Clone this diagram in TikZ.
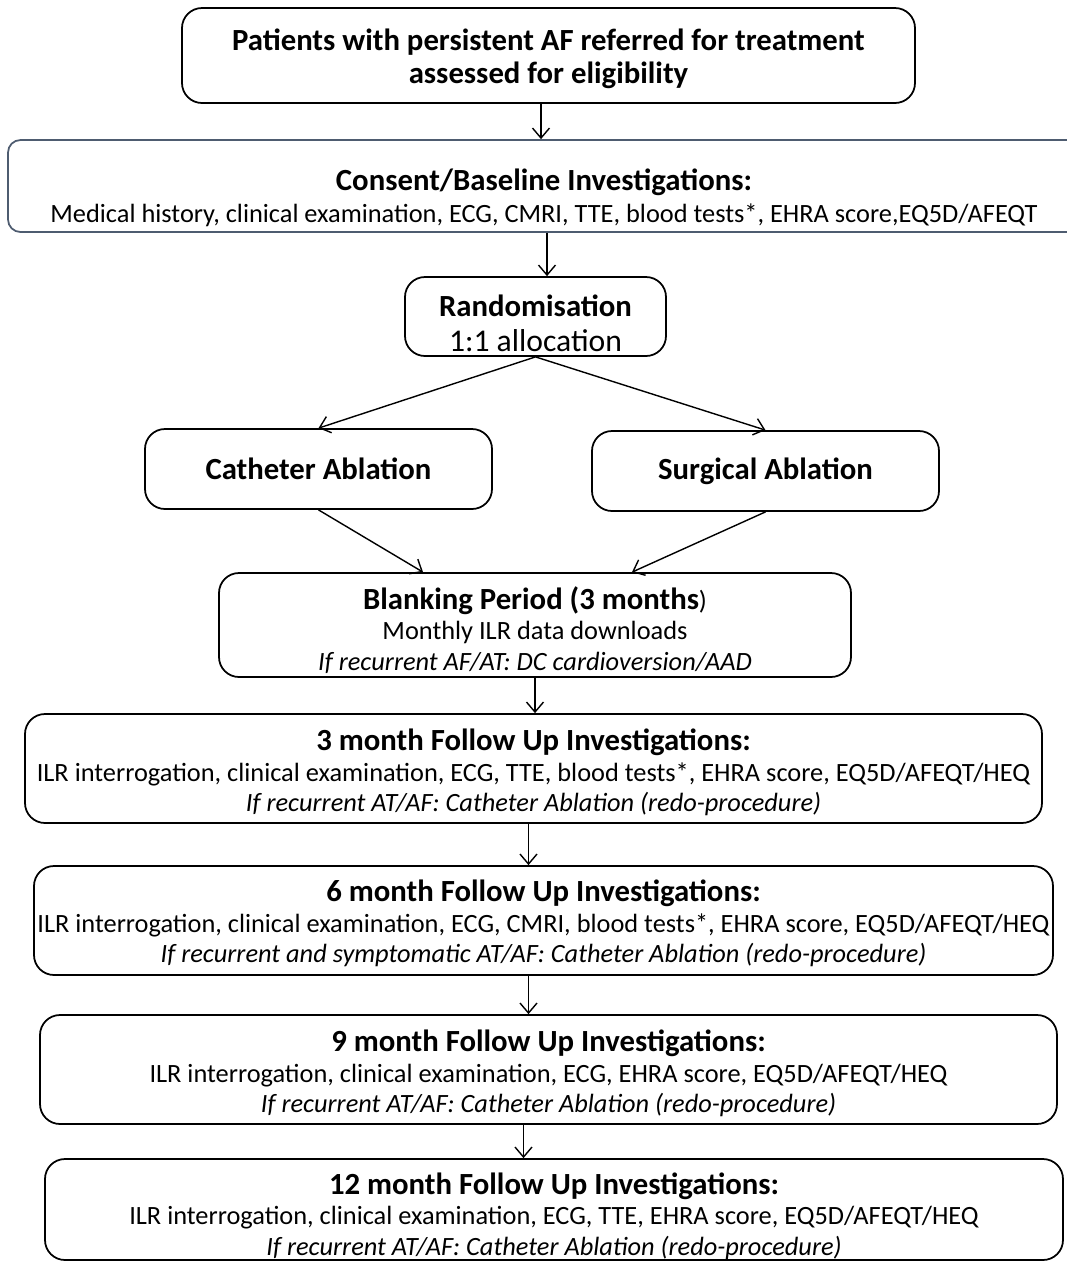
\documentclass[tikz,border=0pt]{standalone}
\usepackage{fontspec}
\setmainfont{Carlito}
\usetikzlibrary{arrows.meta}
\definecolor{slate}{RGB}{78,92,112}
\tikzset{
  stage/.style={draw, rectangle, rounded corners=0.4cm, line width=1pt, align=center, font=\fontsize{15}{17.3}\selectfont, inner sep=0pt},
  >={Straight Barb[length=2mm,width=3.4mm]},
}
\newcommand{\boxtitle}[1]{{\fontsize{17.5}{18}\selectfont\bfseries #1}}
\newcommand{\toppad}[1]{\rule{0pt}{#1}}
\begin{document}
\begin{tikzpicture}
		\useasboundingbox (0,0) rectangle (21.34,-25.3);
		\node (start) [stage, minimum width=14.66cm, minimum height=1.9cm] at (10.97,-1.11) {\toppad{0.55cm}\boxtitle{Patients with persistent AF referred for treatment}\\[1.5pt] \boxtitle{assessed for eligibility}};
		\node (consent) [stage, draw=slate, rounded corners=0.25cm, minimum width=21.44cm, minimum height=1.84cm] at (10.88,-3.72) {\toppad{0.9cm}\boxtitle{Consent/Baseline Investigations:}\\[0.6pt] Medical history, clinical examination, ECG, CMRI, TTE, blood tests*, EHRA score,EQ5D/AFEQT};
		\node (rand) [stage, minimum width=5.22cm, minimum height=1.58cm] at (10.71,-6.33) {\toppad{0.7cm}\boxtitle{Randomisation}\\[2.5pt] {\fontsize{18}{18}\selectfont 1:1 allocation}};
		\node (cath) [stage, minimum width=6.94cm, minimum height=1.6cm] at (6.37,-9.38) {\boxtitle{Catheter Ablation}};
		\node (surg) [stage, minimum width=6.94cm, minimum height=1.6cm] at (15.31,-9.42) {\boxtitle{Surgical Ablation}};
		\node (blank) [stage, minimum width=12.64cm, minimum height=2.08cm] at (10.70,-12.5) {\toppad{0.66cm}\boxtitle{Blanking Period (3 months})\\ Monthly ILR data downloads\\ \textit{If recurrent AF/AT: DC cardioversion/AAD}};
		\node (m3) [stage, minimum width=20.34cm, minimum height=2.18cm] at (10.67,-15.37) {\toppad{0.6cm}\boxtitle{3 month Follow Up Investigations:}\\ ILR interrogation, clinical examination, ECG, TTE, blood tests*, EHRA score, EQ5D/AFEQT/HEQ\\ \textit{If recurrent AT/AF: Catheter Ablation (redo-procedure)}};
		\node (m6) [stage, minimum width=20.38cm, minimum height=2.18cm] at (10.87,-18.41) {\toppad{0.55cm}\boxtitle{6 month Follow Up Investigations:}\\ ILR interrogation, clinical examination, ECG, CMRI, blood tests*, EHRA score, EQ5D/AFEQT/HEQ\\ \textit{If recurrent and symptomatic AT/AF: Catheter Ablation (redo-procedure)}};
		\node (m9) [stage, minimum width=20.34cm, minimum height=2.18cm] at (10.97,-21.39) {\toppad{0.6cm}\boxtitle{9 month Follow Up Investigations:}\\ ILR interrogation, clinical examination, ECG, EHRA score, EQ5D/AFEQT/HEQ\\ \textit{If recurrent AT/AF: Catheter Ablation (redo-procedure)}};
		\node (m12) [stage, minimum width=20.36cm, minimum height=2.02cm] at (11.08,-24.19) {\toppad{0.7cm}\boxtitle{12 month Follow Up Investigations:}\\ ILR interrogation, clinical examination, ECG, TTE, EHRA score, EQ5D/AFEQT/HEQ\\ \textit{If recurrent AT/AF: Catheter Ablation (redo-procedure)}};

		% Arrows
		\draw[->, line width=0.8pt] ([xshift=-0.15cm]start.south) -- ([xshift=-0.15cm]start.south |- consent.north);
		\draw[->, line width=0.8pt] ([xshift=0.06cm]consent.south) -- ([xshift=0.06cm]consent.south |- rand.north);
		\draw[->, line width=0.8pt] (rand.south) -- (cath.north);
		\draw[->, line width=0.8pt] (rand.south) -- (surg.north);
		\draw[->, line width=0.8pt] (cath.south) -- ([xshift=-2.24cm]blank.north);
		\draw[->, line width=0.8pt] (surg.south) -- ([xshift=1.94cm]blank.north);
		\draw[->, line width=0.8pt] (blank.south) -- (blank.south |- m3.north);
		\draw[->, line width=0.8pt] ([xshift=-0.1cm]m3.south) -- ([xshift=-0.1cm]m3.south |- m6.north);
		\draw[->, line width=0.8pt] ([xshift=-0.3cm]m6.south) -- ([xshift=-0.3cm]m6.south |- m9.north);
		\draw[->, line width=0.8pt] ([xshift=-0.5cm]m9.south) -- ([xshift=-0.5cm]m9.south |- m12.north);
	\end{tikzpicture}
\end{document}
